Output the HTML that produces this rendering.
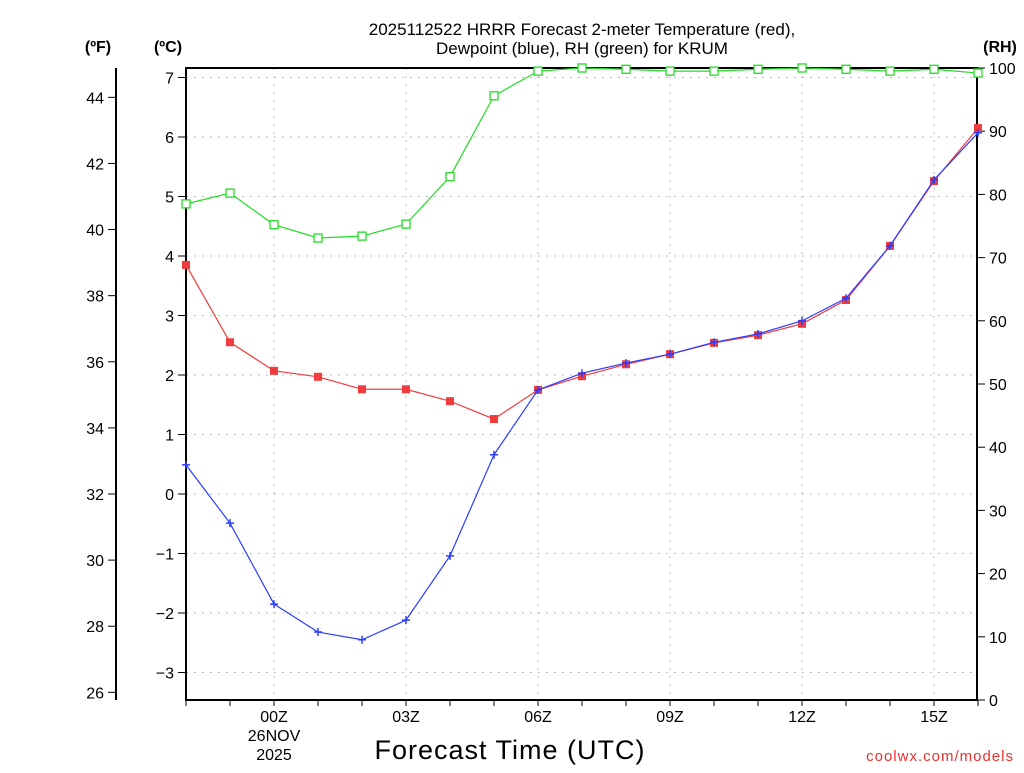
<!DOCTYPE html>
<html><head><meta charset="utf-8"><style>
body{margin:0;background:#fff;width:1024px;height:768px;overflow:hidden}
svg{font-family:"Liberation Sans",sans-serif}
</style></head><body>
<svg id="chart" width="1024" height="768" xmlns="http://www.w3.org/2000/svg">
<g id="grid"></g><g id="axes"></g><g id="series"></g>
<text x="582" y="35" text-anchor="middle" font-size="17">2025112522 HRRR Forecast 2-meter Temperature (red),</text>
<text x="582" y="54" text-anchor="middle" font-size="17">Dewpoint (blue), RH (green) for KRUM</text>
<text x="98" y="52" text-anchor="middle" font-size="16" font-weight="bold">(ºF)</text>
<text x="168" y="52" text-anchor="middle" font-size="16" font-weight="bold">(ºC)</text>
<text x="1000" y="52" text-anchor="middle" font-size="16" font-weight="bold">(RH)</text>
<text x="510" y="759" text-anchor="middle" font-size="27" letter-spacing="1">Forecast Time (UTC)</text>
<text x="1014" y="761" text-anchor="end" font-size="15" fill="#f03030" letter-spacing="1">coolwx.com/models</text>
</svg>
<script>
const hours=["22","23","00","01","02","03","04","05","06","07","08","09","10","11","12","13","14","15","16"];
const tempC=[3.85,2.55,2.07,1.97,1.76,1.76,1.56,1.26,1.75,1.98,2.18,2.35,2.54,2.67,2.86,3.26,4.17,5.26,6.15];
const dewC=[0.49,-0.49,-1.85,-2.32,-2.45,-2.12,-1.04,0.66,1.75,2.03,2.2,2.35,2.55,2.69,2.91,3.29,4.17,5.28,6.07];
const rh=[78.5,80.2,75.2,73.1,73.4,75.3,82.8,95.6,99.5,100,99.8,99.5,99.5,99.8,100,99.8,99.5,99.8,99.2];
const cTicks=[-3,-2,-1,0,1,2,3,4,5,6,7];
const fTicks=[26,28,30,32,34,36,38,40,42,44];
const rhTicks=[0,10,20,30,40,50,60,70,80,90,100];
const xLabels=["00Z","03Z","06Z","09Z","12Z","15Z"];
const X0=186,X1=977,Y0=68,Y1=700;
const xs=i=>X0+i*44;
const yC=c=>494-c*59.5;
const yF=f=>yC((f-32)*5/9);
const yR=r=>700-r*6.32;
const NS="http://www.w3.org/2000/svg";
function mk(parent,tag,attrs,text){const e=document.createElementNS(NS,tag);for(const k in attrs)e.setAttribute(k,attrs[k]);if(text!==undefined)e.textContent=text;document.getElementById(parent).appendChild(e);return e;}
// grid
cTicks.forEach(c=>{const e=mk("grid","line",{x1:X0,x2:X1,y1:yC(c),y2:yC(c),stroke:"#bbb","stroke-dasharray":"2 6"});

});
hours.forEach((h,i)=>{if(i%3===2){const e=mk("grid","line",{x1:xs(i),x2:xs(i),y1:Y0,y2:Y1,stroke:"#bbb","stroke-dasharray":"2 6"});

}});
// frame
let f=mk("axes","rect",{x:X0,y:Y0,width:X1-X0,height:Y1-Y0,fill:"none",stroke:"#000","stroke-width":2});


let fa=mk("axes","line",{x1:116,x2:116,y1:Y0,y2:Y1,stroke:"#000","stroke-width":2});


cTicks.forEach(c=>{mk("axes","line",{x1:X0-8,x2:X0,y1:yC(c),y2:yC(c),stroke:"#000"});
const t=mk("axes","text",{x:X0-12,y:yC(c)+6,"text-anchor":"end","font-size":16},c<0?"−"+(-c):c);

});
fTicks.forEach(v=>{mk("axes","line",{x1:108,x2:116,y1:yF(v),y2:yF(v),stroke:"#000"});
const t=mk("axes","text",{x:104,y:yF(v)+6,"text-anchor":"end","font-size":16},v);

});
rhTicks.forEach(v=>{mk("axes","line",{x1:X1,x2:X1+8,y1:yR(v),y2:yR(v),stroke:"#000"});
const t=mk("axes","text",{x:X1+12,y:yR(v)+6,"font-size":16},v);

});
hours.forEach((h,i)=>{mk("axes","line",{x1:xs(i),x2:xs(i),y1:Y1,y2:Y1+6,stroke:"#000"});});
xLabels.forEach((l,j)=>{const i=hours.indexOf(l.slice(0,2));
const t=mk("axes","text",{x:xs(i),y:722,"text-anchor":"middle","font-size":16},l);

});
[["26NOV",741],["2025",760]].forEach(([s,y])=>{const t=mk("axes","text",{x:xs(2),y:y,"text-anchor":"middle","font-size":16},s);

});
// series
function series(vals,yf,color,marker,name){
const pts=vals.map((v,i)=>xs(i)+","+yf(v)).join(" ");
const l=mk("series","polyline",{points:pts,fill:"none",stroke:color,"stroke-width":1.2});


vals.forEach((v,i)=>{const x=xs(i),y=yf(v);let m;
if(marker==="sq"){m=mk("series","rect",{x:x-4,y:y-4,width:8,height:8,fill:color});}
else if(marker==="osq"){m=mk("series","rect",{x:x-4,y:y-4,width:8,height:8,fill:"#fff",stroke:color,"stroke-width":1.3});}
else{m=mk("series","path",{d:`M${x-4},${y}H${x+4}M${x},${y-4}V${y+4}`,stroke:color,"stroke-width":1.5});}

});}
series(rh,yR,"#22dd22","osq","rh");
series(tempC,yC,"#f03c3c","sq","temperature");
series(dewC,yC,"#2a3cff","plus","dewpoint");
</script>
</body></html>
